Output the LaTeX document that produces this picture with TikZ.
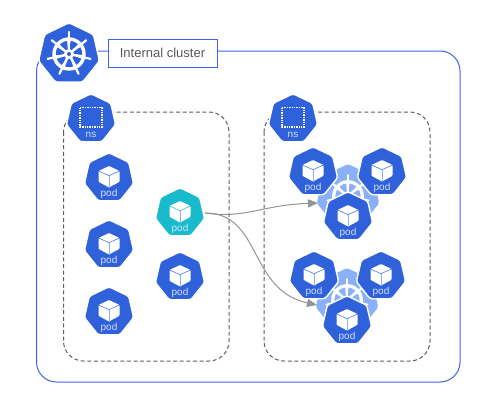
\documentclass[tikz,border=0pt]{standalone}
\usepackage{fontspec}
\setmainfont{Liberation Sans}
\usetikzlibrary{shapes.geometric,arrows.meta}
\definecolor{kblue}{HTML}{2F61DB}
\definecolor{kteal}{HTML}{17BBCB}
\definecolor{klight}{HTML}{8AB1F7}
\definecolor{kline}{HTML}{3F63F0}
\definecolor{klabel}{HTML}{D6E2FF}
\definecolor{kdash}{HTML}{5E5E5E}
\definecolor{karrow}{HTML}{949494}
\tikzset{
  hept/.style={regular polygon,regular polygon sides=7,inner sep=0pt,outer sep=0pt,rounded corners=2.5pt,draw=white,line width=1.4pt},
  dashbox/.style={draw=kdash,line width=1pt,dash pattern=on 4pt off 2.6pt,rounded corners=20pt},
  conn/.style={draw=karrow,line width=1pt,-{Stealth[length=10pt,width=8pt,inset=0pt]}},
  tinytext/.style={font=\fontsize{10}{11}\selectfont,text=klabel,inner sep=0pt}
}
\newcommand{\podat}[4]{%
  \node[hept,fill=#4,minimum size=50.5pt] (#1) at (#2,#3) {};
  \begin{scope}[shift={(#2,#3)}]
    \fill[white,rounded corners=0.8pt] (0,-12) -- (10.5,-7) -- (10.5,3.8) -- (0,9.5) -- (-10.5,3.8) -- (-10.5,-7) -- cycle;
    \draw[klight,line width=1pt] (0,-2.3) -- (0,9.5);
    \draw[#4!70!klight,line width=0.6pt] (-10.5,-7) -- (0,-2.3) -- (10.5,-7);
  \end{scope}
  \node[tinytext] (#1-l) at (#2,#3+16) {pod};
}
\newcommand{\nsat}[3]{%
  \node[hept,fill=kblue,minimum size=50.5pt] (#1) at (#2,#3) {};
  \draw[white,line width=1.2pt,dash pattern=on 1.4pt off 1pt] (#2-11,#3-11.5) rectangle (#2+11,#3+8);
  \node[tinytext] (#1-l) at (#2,#3+15.5) {ns};
}
\newcommand{\helm}[4]{% x y scale colour
  \begin{scope}[shift={(#1,#2)},scale=#3]
    \draw[white,line width=#3*3.4pt] (0,0) circle (15);
    \foreach \a in {90,141.43,192.86,244.29,295.71,347.14,38.57} {
      \draw[white,line width=#3*2.2pt,line cap=round] (0,0) -- ({22*cos(\a)},{-22*sin(\a)});
      \fill[white] ({2*cos(\a+26)},{-2*sin(\a+26)}) -- ({14*cos(\a+8)},{-14*sin(\a+8)}) -- ({14*cos(\a-8)},{-14*sin(\a-8)}) -- cycle;
    }
    \fill[white] (0,0) circle (5);
    \fill[#4] (0,0) circle (2);
  \end{scope}
}
\begin{document}
\begin{tikzpicture}[x=1pt,y=-1pt]
\useasboundingbox (0,0) rectangle (500,405);
% cluster outline
\draw[kline,line width=1pt,rounded corners=20pt] (36.5,51) rectangle (460,382);
% namespace boxes
\draw[dashbox] (63.5,112) rectangle (229,361);
\draw[dashbox] (264,112) rectangle (430,361);
% big logo
\node[hept,fill=kblue,minimum size=62.5pt] (logo) at (69,54) {};
\helm{69}{54}{1}{kblue}
% title
\node[draw=kline,fill=white,line width=1pt,minimum width=109pt,minimum height=28pt,inner sep=0pt,text=black!65,font=\fontsize{13}{15}\selectfont] (title) at (162.5,53) {Internal cluster};
% wheels
\node[hept,draw=none,fill=klight,minimum size=64pt] (w1) at (348,196) {};
\helm{348}{196}{0.95}{klight}
\node[hept,draw=none,fill=klight,minimum size=64pt] (w2) at (347,300) {};
\helm{347}{300}{0.95}{klight}
% namespaces
\nsat{nsL}{91}{119}
\nsat{nsR}{293}{119}
% pods
\podat{p1}{109}{178}{kblue}
\podat{p2}{109}{245}{kblue}
\podat{p3}{109}{312}{kblue}
\podat{src}{180}{213}{kteal}
\podat{p4}{180}{277}{kblue}
\podat{a1}{313}{172}{kblue}
\podat{a2}{382}{172}{kblue}
\podat{a3}{348}{217}{kblue}
\podat{b1}{314}{276}{kblue}
\podat{b2}{381}{276}{kblue}
\podat{b3}{347}{321}{kblue}
% connectors
\coordinate (w1in) at (318,203);
\coordinate (w2in) at (317,305);
\coordinate (srcout) at (205,213);
\draw[conn] (srcout) .. controls (245,219) and (262,205) .. (w1in);
\draw[conn] (srcout) .. controls (262,213) and (248,290) .. (w2in);
\end{tikzpicture}
\end{document}
